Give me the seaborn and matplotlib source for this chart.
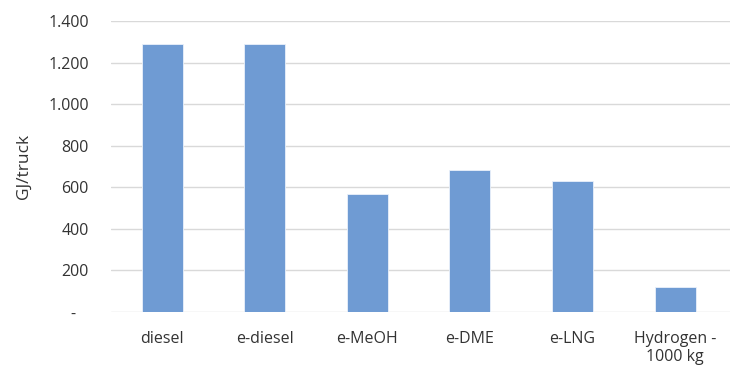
import matplotlib
matplotlib.use("Agg")
import matplotlib.pyplot as plt
import seaborn as sns
import pandas as pd
from matplotlib.ticker import FuncFormatter, MultipleLocator

# Energy demand per truck by fuel option
fuels = ["diesel", "e-diesel", "e-MeOH", "e-DME", "e-LNG", "Hydrogen -\n1000 kg"]
gj_per_truck = [1290, 1290, 570, 685, 632, 120]

df = pd.DataFrame({"fuel": fuels, "gj": gj_per_truck})

sns.set_theme(style="white")
plt.rcParams["font.family"] = ["Open Sans", "DejaVu Sans"]

fig = plt.figure(figsize=(7.3, 3.7), dpi=100)
ax = fig.add_axes([0.152, 0.157, 0.848, 0.786])

sns.barplot(data=df, x="fuel", y="gj", color="#6f9bd3", width=0.40,
            saturation=1, edgecolor="#eaf1fa", linewidth=0.6, ax=ax, zorder=3)

ax.set_ylim(0, 1400)
ax.set_xlim(-0.5, 5.535)
ax.yaxis.set_major_locator(MultipleLocator(200))


def thousands_dot(v, pos):
    if abs(v) < 1e-9:
        return "-   "
    return f"{int(round(v)):,}".replace(",", ".")


ax.yaxis.set_major_formatter(FuncFormatter(thousands_dot))
ax.grid(axis="y", color="#d9d9d9", linewidth=1.0, zorder=0)
ax.set_axisbelow(True)
for s in ax.spines.values():
    s.set_visible(False)

ax.tick_params(axis="both", length=0, labelsize=11.5, colors="#333333")
ax.tick_params(axis="y", pad=16)
ax.tick_params(axis="x", pad=14)
for lbl in ax.get_xticklabels():
    lbl.set_linespacing(1.1)
ax.set_xlabel("")
ax.set_ylabel("GJ/truck", fontsize=12.5, color="#333333", labelpad=12)

fig.savefig("out.png", dpi=100)
